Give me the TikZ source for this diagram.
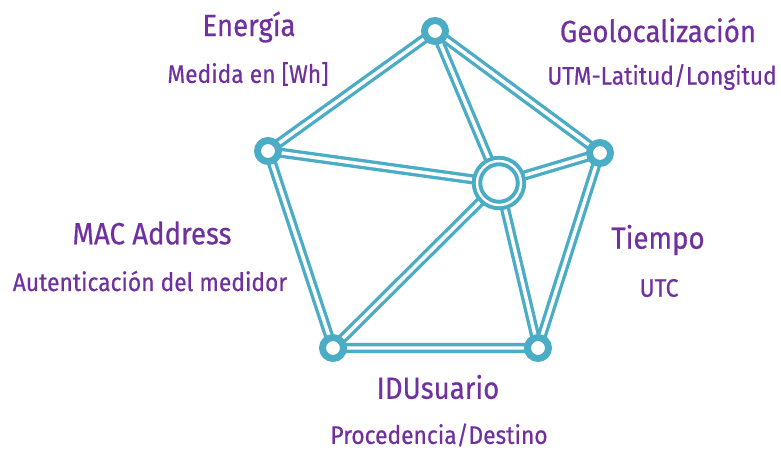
\documentclass[tikz,border=0pt]{standalone}
\usepackage{fontspec}
\usetikzlibrary{backgrounds}
\setmainfont{Fira Sans}[FakeStretch=0.9,FakeBold=0.5]

\definecolor{linkteal}{HTML}{4BACC6}
\definecolor{labelpurple}{HTML}{7030A0}

\begin{document}
\begin{tikzpicture}[x=0.75pt,y=-0.75pt,
    link/.style={draw=linkteal, line width=2.5pt, double=white, double distance=2.6pt},
    dot/.style={circle, draw=linkteal, line width=5.2pt, fill=white, minimum size=15.75pt, inner sep=0pt},
    hub/.style={circle, draw=linkteal, line width=3pt, double=white, double distance=1.8pt, fill=white, minimum size=33pt, inner sep=0pt},
    title/.style={text=labelpurple, font=\fontsize{23}{27}\selectfont},
    sub/.style={text=labelpurple, font=\fontsize{19}{23}\selectfont}]
    \useasboundingbox (0,0) rectangle (781,450);

    % Draw nodes
    \node[dot] (top) at (435,31) {};
    \node[dot] (right) at (600,153) {};
    \node[dot] (lowright) at (538,348) {};
    \node[dot] (lowleft) at (333,348) {};
    \node[dot] (left) at (268,151) {};
    \node[hub] (hub) at (499,183) {};

    % Draw the links behind the nodes
    \begin{scope}[on background layer]
        \draw[link] (top.center) -- (right.center) -- (lowright.center) -- (lowleft.center) -- (left.center) -- cycle;
        \foreach \n in {top,right,lowright,lowleft,left}
            \draw[link] (hub.center) -- (\n.center);
    \end{scope}

    % Add labels
    \node[title] (energia) at (249,27) {Energía};
    \node[sub] (energiasub) at (248,74) {Medida en [Wh]};
    \node[title] (geo) at (658,30) {Geolocalización};
    \node[sub] (geosub) at (662,77) {UTM-Latitud/Longitud};
    \node[title] (tiempo) at (658,240) {Tiempo};
    \node[sub] (tiemposub) at (659,288) {UTC};
    \node[title] (mac) at (152,233) {MAC Address};
    \node[sub] (macsub) at (150,281) {Autenticación del medidor};
    \node[title] (usuario) at (438,387) {IDUsuario};
    \node[sub] (usuariosub) at (439,435) {Procedencia/Destino};
\end{tikzpicture}
\end{document}
